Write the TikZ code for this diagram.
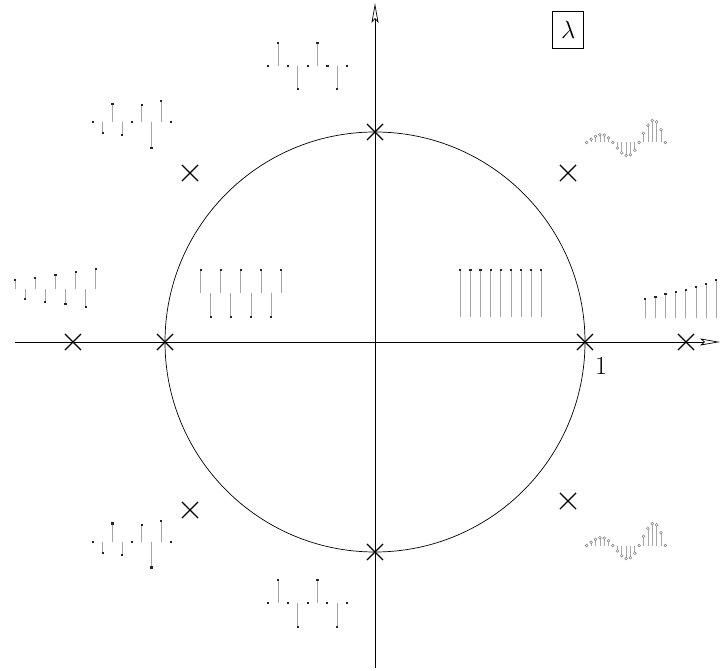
\documentclass[tikz,border=0pt]{standalone}
\usetikzlibrary{arrows.meta,shapes.misc}
\tikzset{
  axisln/.style={line width=0.7pt,-{Stealth[open,length=20pt,width=7pt,inset=4pt]}},
  xmark/.style={cross out,draw,line width=1.1pt,minimum size=15pt,inner sep=0pt},
  stemln/.style={draw=gray!70,line width=0.8pt},
  circmk/.style={draw=gray,fill=white,line width=0.5pt},
  lbl/.style={font=\fontsize{24}{28}\selectfont,inner sep=0pt}
}
\newcommand\stemsq[4]{%
  \foreach \v [count=\k from 0] in {#4}{%
    \draw[stemln] (#1+\k*#2,#3) -- (#1+\k*#2,#3+\v);
    \fill[black!85] (#1+\k*#2-1.1,#3+\v-1.1) rectangle ++(2.2,2.2);
  }}
\newcommand\stemspiral[3]{%
  \foreach \k in {0,...,18}{%
    \pgfmathsetmacro\v{-6*1.09^\k*sin(30*\k)}
    \draw[stemln,line width=0.6pt] (#1+\k*#2,#3) -- (#1+\k*#2,#3+\v);
    \draw[circmk] (#1+\k*#2,#3+\v) circle (1.4);
  }}
\begin{document}
\begin{tikzpicture}[x=1pt,y=-1pt]
\useasboundingbox (0,0) rectangle (724,671);
% axes
\coordinate (xl) at (15,342);
\coordinate (xr) at (720,342);
\coordinate (yb) at (375,668);
\coordinate (yt) at (375,3);
\draw[axisln] (xl) -- (xr);
\draw[axisln] (yb) -- (yt);
% unit circle
\node[circle,draw,line width=0.7pt,minimum size=420pt,inner sep=0pt] (uc) at (375,342) {};
% crosses
\node[xmark] (p1) at (375,132) {};
\node[xmark] (p2) at (375,552) {};
\node[xmark] (p3) at (165,342) {};
\node[xmark] (p4) at (585,342) {};
\node[xmark] (p5) at (73,342) {};
\node[xmark] (p6) at (686,342) {};
\node[xmark] (p7) at (190,173) {};
\node[xmark] (p8) at (568,173) {};
\node[xmark] (p9) at (190,510) {};
\node[xmark] (p10) at (568,501) {};
% labels
\node[lbl,font=\fontsize{26}{30}\selectfont] (one) at (601,366) {1};
\node[lbl,draw,line width=0.8pt,minimum width=31pt,minimum height=37pt] (lam) at (568.3,30.3) {$\lambda$};
% stem plots
\stemsq{268}{9.9}{66}{0,-22.7,0,23.3,0,-22.7,0,23.3,0}
\stemsq{268.3}{9.84}{603.3}{0,-23.7,0,23.7,0,-23.7,0,23.7,0}
\stemsq{93}{9.75}{122}{0,11,-18.3,13.3,0,-17,25.7,-20.7,0}
\stemsq{93}{9.75}{541.7}{0,11,-18.3,13.3,0,-17,25.7,-20.7,0}
\stemsq{15}{10.1}{289}{-9.3,10.3,-11.3,12.7,-14,15,-16.7,18.3,-20}
\stemsq{200.7}{10.04}{293.5}{-23.3,23.7,-23.3,23.7,-23.3,23.7,-23.3,23.7,-23.3}
\stemsq{460.3}{10.13}{317.3}{-47.6,-47.6,-47.6,-47.6,-47.6,-47.6,-47.6,-47.6,-47.6}
\stemsq{645.3}{10.14}{317.7}{-19,-21,-23.4,-25.7,-28,-31,-34,-37.4}
\stemspiral{586.7}{4.37}{142.5}
\stemspiral{586.7}{4.37}{545.5}
\end{tikzpicture}
\end{document}
